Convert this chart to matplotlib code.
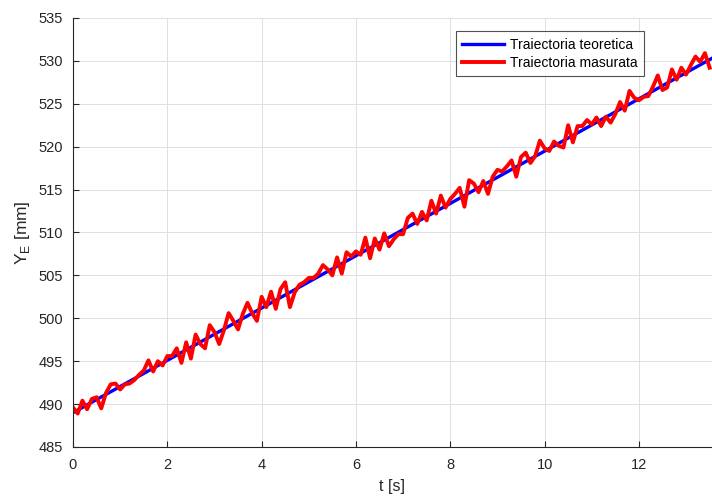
import numpy as np
import matplotlib
matplotlib.use("Agg")
import matplotlib.pyplot as plt

plt.rcParams['font.family'] = ['Liberation Sans', 'DejaVu Sans']

# theoretical trajectory (straight line, two end points)
t_teor = [0.0, 13.55]
y_teor = [489.0, 530.3]

# measured trajectory, sampled every 0.1 s
t_mas = np.arange(0, 136) * 0.1
y_mas = [
    489.6, 488.9, 490.4, 489.4, 490.6, 490.8, 489.5, 491.3, 492.3, 492.4,
    491.7, 492.3, 492.4, 492.8, 493.4, 493.9, 495.1, 493.8, 495.0, 494.5,
    495.6, 495.6, 496.5, 494.8, 497.2, 495.3, 498.1, 497.0, 496.5, 499.2,
    498.4, 497.0, 498.6, 500.6, 499.7, 498.7, 500.5, 501.8, 500.6, 499.7,
    502.5, 501.3, 503.1, 501.1, 503.4, 504.2, 501.3, 503.0, 503.9, 504.2,
    504.7, 504.7, 505.2, 506.2, 505.7, 505.0, 507.1, 505.2, 507.7, 507.2,
    507.8, 507.4, 509.4, 507.0, 509.3, 508.0, 509.9, 508.4, 509.2, 509.8,
    509.8, 511.7, 512.2, 511.0, 512.4, 511.4, 513.7, 512.2, 514.3, 512.9,
    513.9, 514.5, 515.2, 513.0, 516.1, 515.7, 514.7, 516.0, 514.5, 516.5,
    517.3, 517.1, 517.7, 518.4, 516.5, 518.8, 519.3, 518.1, 518.9, 520.7,
    519.8, 519.5, 520.6, 520.1, 519.9, 522.5, 520.5, 522.4, 522.4, 523.1,
    522.6, 523.4, 522.4, 523.5, 522.8, 523.8, 525.2, 524.2, 526.5, 525.7,
    525.4, 525.8, 525.9, 527.0, 528.3, 526.6, 526.9, 529.0, 527.8, 529.2,
    528.4, 529.5, 530.5, 529.9, 530.9, 529.2,
]

fig = plt.figure(figsize=(7.12, 4.96), dpi=100)
ax = fig.add_axes([0.1025, 0.0988, 0.8975, 0.8650])

ax.plot(t_teor, y_teor, color='#0000ff', lw=2.4, label='Traiectoria teoretica')
ax.plot(t_mas, y_mas, color='#ff0000', lw=2.8, label='Traiectoria masurata')

ax.set_xlim(0, 13.55)
ax.set_ylim(485, 535)
ax.set_xticks(range(0, 13, 2))
ax.set_yticks(range(485, 536, 5))
ax.grid(True, color='#e0e0e0', lw=0.7)
ax.set_axisbelow(True)

for s in ['top', 'right']:
    ax.spines[s].set_visible(False)
for s in ['left', 'bottom']:
    ax.spines[s].set_color('#262626')
    ax.spines[s].set_linewidth(0.8)
ax.tick_params(direction='in', length=4, width=0.8, colors='#262626',
               labelsize=10.5, labelcolor='#262626')
ax.tick_params(axis='x', pad=8)
ax.tick_params(axis='y', pad=7)

ax.set_xlabel('t [s]', fontsize=11.5, color='#262626', labelpad=5)
ax.set_ylabel('Y$_\\mathregular{E}$ [mm]', fontsize=12.5, color='#262626', labelpad=5)

leg = ax.legend(loc='upper right', bbox_to_anchor=(0.905, 0.985), fontsize=10,
                frameon=True, fancybox=False, edgecolor='#262626',
                handlelength=3.0, handletextpad=0.5, borderpad=0.45,
                labelspacing=0.3)
leg.get_frame().set_linewidth(0.8)

fig.savefig('out.png', dpi=100)
